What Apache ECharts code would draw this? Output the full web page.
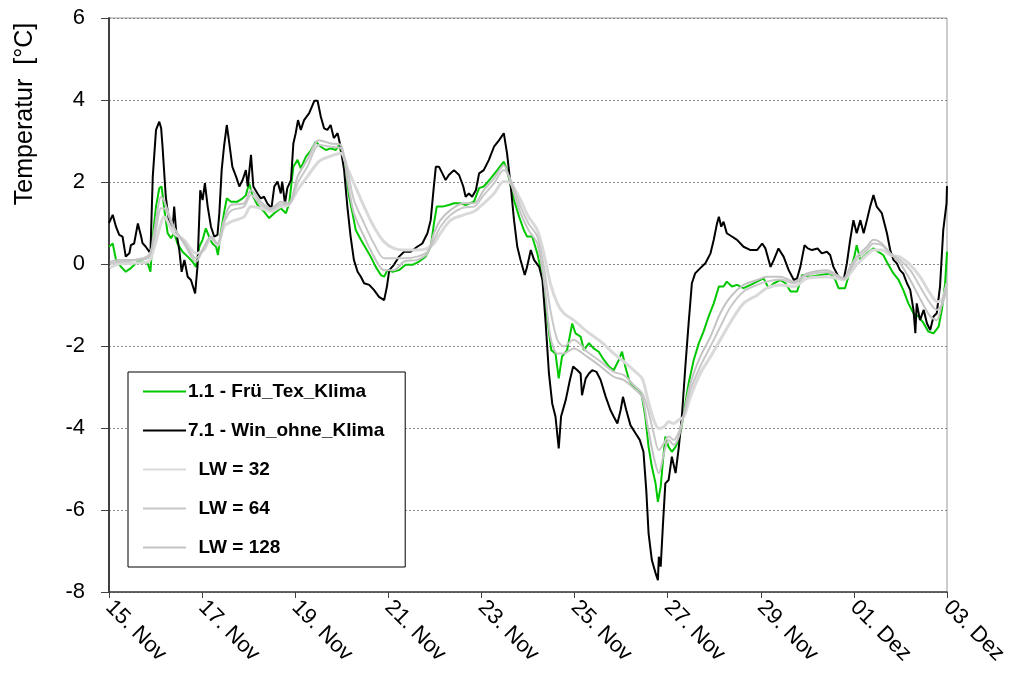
<!DOCTYPE html>
<html>
<head>
<meta charset="utf-8">
<script src="https://cdn.jsdelivr.net/npm/echarts@6/dist/echarts.min.js"></script>
<style>
  html, body { margin: 0; padding: 0; background: #fff; }
  #chart { width: 1019px; height: 675px; }
</style>
</head>
<body>
<div id="chart"></div>
<script>
// x = days since 15. Nov 00:00
const xLabels = ['15. Nov', '17. Nov', '19. Nov', '21. Nov', '23. Nov', '25. Nov', '27. Nov', '29. Nov', '01. Dez', '03. Dez']
const yTicks = [-8, -6, -4, -2, 0, 2, 4, 6]

// 1.1 - Frü_Tex_Klima
const fruTex = [
  [0, 0.42], [0.08, 0.5], [0.15, 0.1], [0.26, -0.07], [0.36, -0.19], [0.47, -0.1], [0.62, 0.06], [0.72, 0.06], [0.83, 0.02], [0.89, -0.19],
  [0.94, 0.67], [1.01, 1.4], [1.08, 1.85], [1.13, 1.89], [1.19, 1.32], [1.26, 0.75], [1.33, 0.63], [1.4, 0.75], [1.47, 0.5], [1.58, 0.3],
  [1.69, 0.18], [1.79, 0.06], [1.87, -0.07], [1.94, 0.42], [2.01, 0.59], [2.08, 0.87], [2.15, 0.67], [2.22, 0.5], [2.3, 0.42], [2.34, 0.22],
  [2.4, 0.75], [2.47, 1.24], [2.53, 1.6], [2.62, 1.52], [2.76, 1.52], [2.87, 1.6], [2.94, 1.68], [3.01, 1.97], [3.08, 1.68], [3.19, 1.44],
  [3.33, 1.28], [3.44, 1.12], [3.55, 1.24], [3.69, 1.36], [3.8, 1.24], [3.87, 1.48], [3.96, 2.37], [4.05, 2.54], [4.12, 2.33], [4.23, 2.62],
  [4.33, 2.76], [4.44, 2.98], [4.55, 2.86], [4.66, 2.78], [4.76, 2.82], [4.87, 2.78], [4.94, 2.9], [5.01, 2.62], [5.09, 2.21], [5.16, 1.64],
  [5.23, 1.24], [5.3, 0.83], [5.41, 0.59], [5.52, 0.38], [5.62, 0.18], [5.73, -0.07], [5.84, -0.27], [5.91, -0.31], [5.98, -0.15], [6.09, -0.19],
  [6.23, -0.15], [6.37, -0.02], [6.52, -0.02], [6.66, 0.06], [6.8, 0.18], [6.91, 0.42], [6.98, 0.99], [7.04, 1.4], [7.16, 1.4], [7.3, 1.44],
  [7.41, 1.48], [7.55, 1.48], [7.66, 1.44], [7.84, 1.52], [7.95, 1.85], [8.05, 1.89], [8.2, 2.09], [8.34, 2.29], [8.48, 2.5], [8.55, 2.29],
  [8.63, 1.89], [8.7, 1.56], [8.81, 1.15], [8.91, 0.83], [8.98, 0.67], [9.09, 0.67], [9.2, 0.26], [9.31, -0.31], [9.41, -1.28], [9.5, -2.1],
  [9.59, -2.18], [9.66, -2.79], [9.73, -2.26], [9.84, -2.1], [9.95, -1.45], [10.02, -1.69], [10.13, -1.77], [10.2, -2.1], [10.31, -1.93], [10.41, -2.06],
  [10.52, -2.14], [10.63, -2.34], [10.74, -2.5], [10.84, -2.59], [10.95, -2.34], [11.02, -2.14], [11.09, -2.5], [11.17, -2.83], [11.27, -2.99], [11.38, -3.07],
  [11.45, -3.24], [11.52, -3.72], [11.59, -4.46], [11.66, -4.94], [11.74, -5.35], [11.79, -5.8], [11.85, -5.43], [11.9, -4.78], [11.95, -4.21], [12.02, -4.46],
  [12.09, -4.58], [12.17, -4.46], [12.24, -4.29], [12.31, -3.89], [12.38, -3.4], [12.45, -2.91], [12.56, -2.34], [12.67, -1.93], [12.77, -1.65], [12.88, -1.28],
  [12.99, -0.96], [13.1, -0.55], [13.2, -0.55], [13.27, -0.43], [13.38, -0.55], [13.49, -0.51], [13.63, -0.59], [13.78, -0.51], [13.92, -0.43], [14.06, -0.35],
  [14.17, -0.59], [14.28, -0.47], [14.42, -0.39], [14.53, -0.47], [14.64, -0.67], [14.78, -0.67], [14.89, -0.27], [15.06, -0.31], [15.28, -0.27], [15.49, -0.23],
  [15.6, -0.39], [15.67, -0.59], [15.81, -0.59], [15.92, -0.15], [16.01, 0.18], [16.06, 0.46], [16.14, 0.1], [16.28, 0.26], [16.42, 0.38], [16.52, 0.3],
  [16.63, 0.22], [16.74, -0.02], [16.85, -0.23], [16.96, -0.39], [17.06, -0.63], [17.17, -0.96], [17.28, -1.2], [17.39, -1.28], [17.5, -1.45], [17.6, -1.65],
  [17.71, -1.69], [17.82, -1.53], [17.89, -1.12], [17.96, -0.47], [18, 0.3]
]

// 7.1 - Win_ohne_Klima
const winOhne = [
  [0, 1.0], [0.08, 1.2], [0.15, 0.91], [0.22, 0.71], [0.29, 0.67], [0.36, 0.18], [0.44, 0.27], [0.47, 0.46], [0.54, 0.5], [0.62, 0.99],
  [0.69, 0.67], [0.72, 0.51], [0.79, 0.42], [0.89, 0.26], [0.94, 2.13], [1.01, 3.27], [1.08, 3.47], [1.12, 3.31], [1.15, 2.86], [1.22, 1.64],
  [1.29, 1.03], [1.37, 0.91], [1.4, 1.4], [1.44, 0.83], [1.51, 0.34], [1.56, -0.19], [1.62, 0.1], [1.69, -0.31], [1.76, -0.39], [1.85, -0.72],
  [1.9, -0.07], [1.96, 1.8], [2.01, 1.56], [2.06, 1.97], [2.12, 1.4], [2.19, 0.91], [2.26, 0.67], [2.33, 0.71], [2.37, 1.24], [2.42, 2.29],
  [2.47, 2.86], [2.53, 3.39], [2.58, 2.98], [2.65, 2.37], [2.73, 2.13], [2.8, 1.89], [2.87, 2.05], [2.94, 2.29], [2.98, 1.89], [3.05, 2.66],
  [3.1, 1.89], [3.19, 1.72], [3.26, 1.6], [3.33, 1.64], [3.4, 1.48], [3.49, 1.36], [3.55, 1.89], [3.62, 2.01], [3.69, 1.72], [3.72, 2.01],
  [3.78, 1.48], [3.83, 1.85], [3.91, 2.05], [3.96, 2.94], [4.01, 3.19], [4.06, 3.51], [4.12, 3.27], [4.19, 3.51], [4.3, 3.68], [4.41, 3.98],
  [4.48, 3.98], [4.55, 3.59], [4.62, 3.31], [4.69, 3.27], [4.76, 3.39], [4.83, 3.07], [4.91, 3.19], [4.96, 2.94], [5.05, 2.29], [5.12, 1.4],
  [5.19, 0.67], [5.26, 0.1], [5.34, -0.19], [5.41, -0.31], [5.48, -0.47], [5.59, -0.51], [5.69, -0.63], [5.8, -0.8], [5.91, -0.88], [5.97, -0.55],
  [6.02, -0.15], [6.12, -0.02], [6.23, 0.18], [6.34, 0.3], [6.48, 0.3], [6.62, 0.42], [6.73, 0.5], [6.84, 0.75], [6.91, 1.07], [6.97, 1.8],
  [7.02, 2.37], [7.09, 2.37], [7.16, 2.21], [7.23, 2.05], [7.3, 2.17], [7.41, 2.29], [7.52, 2.17], [7.61, 1.89], [7.66, 1.64], [7.73, 1.72],
  [7.8, 1.64], [7.88, 1.8], [7.95, 2.21], [8.05, 2.29], [8.16, 2.54], [8.27, 2.86], [8.38, 3.02], [8.48, 3.19], [8.55, 2.7], [8.63, 1.89],
  [8.7, 1.07], [8.77, 0.42], [8.84, 0.1], [8.93, -0.27], [8.98, -0.07], [9.06, 0.34], [9.13, 0.1], [9.24, -0.07], [9.31, -0.39], [9.38, -1.45],
  [9.45, -2.67], [9.52, -3.4], [9.59, -3.72], [9.66, -4.5], [9.71, -3.72], [9.81, -3.32], [9.9, -2.83], [9.97, -2.5], [10.06, -2.59], [10.13, -2.67],
  [10.16, -3.2], [10.24, -2.79], [10.31, -2.67], [10.38, -2.59], [10.47, -2.63], [10.56, -2.83], [10.67, -3.24], [10.77, -3.56], [10.84, -3.72], [10.92, -3.89],
  [10.99, -3.56], [11.04, -3.24], [11.11, -3.56], [11.2, -3.93], [11.31, -4.13], [11.4, -4.29], [11.48, -4.58], [11.54, -5.51], [11.59, -6.57], [11.66, -7.22],
  [11.74, -7.54], [11.79, -7.71], [11.81, -7.14], [11.85, -7.38], [11.9, -6.33], [11.95, -5.35], [12.02, -5.27], [12.09, -4.7], [12.17, -5.1], [12.24, -4.46],
  [12.31, -3.64], [12.38, -2.5], [12.45, -1.45], [12.52, -0.47], [12.59, -0.23], [12.7, -0.1], [12.81, 0.02], [12.92, 0.26], [12.99, 0.59], [13.06, 0.99],
  [13.1, 1.15], [13.15, 0.91], [13.2, 1.03], [13.27, 0.75], [13.38, 0.67], [13.49, 0.59], [13.63, 0.42], [13.78, 0.34], [13.92, 0.34], [14.03, 0.5],
  [14.1, 0.38], [14.21, -0.07], [14.28, 0.1], [14.38, 0.38], [14.49, 0.18], [14.6, -0.15], [14.71, -0.39], [14.78, -0.35], [14.85, -0.07], [14.94, 0.46],
  [15.01, 0.38], [15.1, 0.34], [15.22, 0.38], [15.31, 0.26], [15.42, 0.3], [15.49, 0.22], [15.56, -0.07], [15.67, -0.31], [15.78, -0.39], [15.85, 0.02],
  [15.92, 0.59], [15.99, 1.07], [16.06, 0.75], [16.14, 1.07], [16.21, 0.75], [16.28, 1.07], [16.35, 1.4], [16.42, 1.68], [16.49, 1.4], [16.6, 1.24],
  [16.71, 0.75], [16.78, 0.34], [16.85, 0.1], [16.92, 0.02], [16.99, -0.15], [17.06, -0.23], [17.14, -0.47], [17.21, -0.63], [17.28, -1.12], [17.32, -1.69],
  [17.35, -0.96], [17.42, -1.37], [17.5, -1.12], [17.57, -1.45], [17.64, -1.61], [17.71, -1.28], [17.78, -1.2], [17.85, -0.55], [17.92, 0.83], [17.99, 1.48],
  [18, 1.9]
]

// smoothed curves share one time grid
const grayT = [
  0.02, 0.19, 0.47, 0.84, 0.97, 1.12, 1.18, 1.39, 1.61, 1.87, 2.04, 2.19, 2.33, 2.47, 2.62, 2.9, 3.05, 3.26, 3.48, 3.69,
  3.86, 4.05, 4.26, 4.51, 4.76, 4.98, 5.12, 5.26, 5.48, 5.69, 5.91, 6.12, 6.34, 6.62, 6.84, 6.98, 7.12, 7.34, 7.62, 7.84,
  8.05, 8.27, 8.48, 8.63, 8.84, 9.01, 9.2, 9.34, 9.48, 9.63, 9.77, 9.98, 10.27, 10.56, 10.84, 11.06, 11.27, 11.45, 11.56, 11.7,
  11.81, 11.92, 12.02, 12.13, 12.24, 12.35, 12.49, 12.7, 12.92, 13.13, 13.35, 13.63, 13.92, 14.13, 14.42, 14.71, 14.99, 15.42, 15.64, 15.78,
  15.92, 16.06, 16.28, 16.42, 16.6, 16.78, 16.99, 17.21, 17.42, 17.64, 17.78, 17.89, 18
]
const lw32 = [
  -0.1, 0.0, 0.02, 0.05, 0.4, 1.0, 1.15, 0.75, 0.59, 0.26, 0.34, 0.63, 0.46, 0.91, 1.03, 1.15, 1.4, 1.36, 1.28, 1.4,
  1.44, 1.8, 2.13, 2.5, 2.63, 2.7, 2.34, 1.97, 1.4, 0.91, 0.54, 0.38, 0.34, 0.34, 0.38, 0.5, 0.75, 1.07, 1.2, 1.28,
  1.48, 1.72, 2.01, 1.97, 1.56, 1.15, 0.83, 0.26, -0.47, -0.96, -1.2, -1.37, -1.65, -1.89, -2.18, -2.38, -2.59, -2.79, -3.24, -3.8,
  -4.01, -3.97, -3.85, -3.89, -3.8, -3.72, -3.24, -2.67, -2.26, -1.85, -1.42, -0.96, -0.76, -0.59, -0.51, -0.55, -0.35, -0.31, -0.35, -0.39,
  -0.23, -0.02, 0.22, 0.34, 0.34, 0.22, 0.17, -0.02, -0.31, -0.72, -0.92, -0.88, -0.47
]
const lw64 = [
  0.0, 0.05, 0.08, 0.2, 0.6, 1.36, 1.36, 0.87, 0.55, 0.14, 0.38, 0.65, 0.48, 1.0, 1.3, 1.4, 1.68, 1.45, 1.32, 1.46,
  1.46, 1.97, 2.37, 2.9, 2.86, 2.82, 2.29, 1.56, 0.99, 0.5, 0.14, 0.14, 0.14, 0.18, 0.3, 0.59, 0.91, 1.2, 1.38, 1.4,
  1.68, 1.97, 2.29, 2.05, 1.4, 0.99, 0.67, -0.07, -1.12, -1.85, -2.01, -1.85, -2.14, -2.38, -2.63, -2.71, -2.95, -3.15, -3.48, -4.13,
  -4.54, -4.37, -4.21, -4.29, -4.1, -3.7, -3.07, -2.5, -2.01, -1.53, -1.05, -0.67, -0.51, -0.43, -0.38, -0.47, -0.27, -0.2, -0.3, -0.37,
  -0.15, 0.1, 0.34, 0.5, 0.46, 0.26, 0.1, -0.15, -0.55, -0.96, -1.12, -1.0, -0.6
]
const lw128 = [
  0.05, 0.1, 0.1, 0.15, 0.8, 1.64, 1.55, 0.91, 0.5, 0.06, 0.42, 0.67, 0.5, 1.07, 1.44, 1.48, 1.8, 1.52, 1.36, 1.52,
  1.48, 2.13, 2.54, 3.02, 2.94, 2.9, 2.05, 1.24, 0.67, 0.18, -0.15, -0.15, 0.06, 0.1, 0.26, 0.75, 1.07, 1.32, 1.48, 1.48,
  1.8, 2.09, 2.41, 1.97, 1.24, 0.83, 0.5, -0.39, -1.77, -2.18, -2.18, -2.06, -2.26, -2.5, -2.75, -2.83, -3.03, -3.24, -3.89, -4.7,
  -5.1, -4.62, -4.29, -4.41, -4.21, -3.64, -2.91, -2.26, -1.77, -1.2, -0.8, -0.51, -0.39, -0.31, -0.31, -0.43, -0.23, -0.15, -0.27, -0.35,
  -0.07, 0.18, 0.42, 0.59, 0.5, 0.26, 0.02, -0.39, -0.84, -1.28, -1.37, -0.96, -0.47
]

const font = 'Arial, "Liberation Sans", sans-serif'
const zip = (t, v) => t.map((x, i) => [x, v[i]])

const chart = echarts.init(document.getElementById('chart'))
chart.setOption({
  animation: false,
  backgroundColor: '#fff',
  textStyle: { fontFamily: font },
  grid: {
    left: 109, right: 72, top: 18, bottom: 83,
    show: true, borderColor: '#9a9a9a', borderWidth: 1
  },
  graphic: [{
    type: 'text',
    x: 25, y: 114, rotation: Math.PI / 2,
    style: {
      text: 'Temperatur  [°C]', font: '25px ' + font, fill: '#000',
      textAlign: 'center', textVerticalAlign: 'middle'
    }
  }],
  legend: {
    orient: 'vertical',
    left: 128, top: 372,
    padding: [10, 21, 10, 14],
    itemGap: 20,
    itemWidth: 43, itemHeight: 14,
    borderColor: '#000', borderWidth: 1,
    backgroundColor: '#fff',
    itemStyle: { opacity: 0 },
    textStyle: { fontFamily: font, fontSize: 19, fontWeight: 'bold', color: '#000', padding: [0, 0, 0, -3] },
    data: ['1.1 - Frü_Tex_Klima', '7.1 - Win_ohne_Klima', '  LW = 32', '  LW = 64', '  LW = 128']
  },
  xAxis: {
    type: 'value', min: 0, max: 18, interval: 2,
    axisLine: { onZero: false, lineStyle: { color: '#404040', width: 1.5 } },
    axisTick: { show: true, length: 6, lineStyle: { color: '#404040' } },
    splitLine: { show: false },
    axisLabel: {
      rotate: -45, margin: 12, fontSize: 22, color: '#000', fontFamily: font,
      formatter: v => xLabels[Math.round(v / 2)]
    }
  },
  yAxis: {
    type: 'value', min: yTicks[0], max: yTicks[yTicks.length - 1], interval: 2,
    axisLine: { show: true, lineStyle: { color: '#404040', width: 2 } },
    axisTick: { show: true, length: 8, lineStyle: { color: '#404040' } },
    splitLine: { show: true, lineStyle: { color: '#8c8c8c', type: [2, 2], width: 1 } },
    axisLabel: { margin: 24, fontSize: 22, color: '#000', fontFamily: font }
  },
  series: [
    {
      name: '1.1 - Frü_Tex_Klima', type: 'line', data: fruTex, symbol: 'none',
      lineStyle: { color: '#00c800', width: 2 }, itemStyle: { color: '#00c800' }
    },
    {
      name: '7.1 - Win_ohne_Klima', type: 'line', data: winOhne, symbol: 'none',
      lineStyle: { color: '#000', width: 2 }, itemStyle: { color: '#000' }
    },
    {
      name: '  LW = 32', type: 'line', data: zip(grayT, lw32), symbol: 'none', smooth: 0.3,
      lineStyle: { color: '#d9d9d9', width: 3 }, itemStyle: { color: '#d9d9d9' }
    },
    {
      name: '  LW = 64', type: 'line', data: zip(grayT, lw64), symbol: 'none', smooth: 0.3,
      lineStyle: { color: '#c8c8c8', width: 2 }, itemStyle: { color: '#c8c8c8' }
    },
    {
      name: '  LW = 128', type: 'line', data: zip(grayT, lw128), symbol: 'none', smooth: 0.3,
      lineStyle: { color: '#c3c3c3', width: 2 }, itemStyle: { color: '#c3c3c3' }
    }
  ]
})
</script>
</body>
</html>
